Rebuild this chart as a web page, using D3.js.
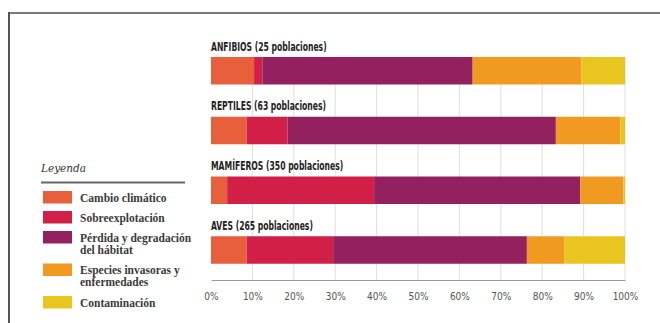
<!DOCTYPE html>
<html>
<head>
<meta charset="utf-8">
<script src="https://cdn.jsdelivr.net/npm/d3@7"></script>
<style>
  html, body { margin: 0; padding: 0; background: #fff; }
  svg { display: block; }
</style>
</head>
<body>
<svg id="chart" width="660" height="323"></svg>
<script>
// Groups and their population counts
const groups = ["ANFIBIOS", "REPTILES", "MAMÍFEROS", "AVES"];
const populations = [25, 63, 350, 265];

// Threat categories (legend order = stacking order)
const threats = [
  "Cambio climático",
  "Sobreexplotación",
  "Pérdida y degradación del hábitat",
  "Especies invasoras y enfermedades",
  "Contaminación"
];
const legendLines = [
  ["Cambio climático"],
  ["Sobreexplotación"],
  ["Pérdida y degradación", "del hábitat"],
  ["Especies invasoras y", "enfermedades"],
  ["Contaminación"]
];
const colors = ["#e85f3c", "#d21f48", "#93215f", "#f09a22", "#e8c51f"];

// Share of each threat per group, in percent
const cambioClimatico   = [10.4, 8.6, 3.9, 8.6];
const sobreexplotacion  = [2.0, 9.9, 35.5, 20.9];
const perdidaHabitat    = [50.8, 64.8, 49.8, 46.8];
const especiesInvasoras = [26.3, 15.6, 10.4, 9.0];
const contaminacion     = [10.5, 1.1, 0.4, 14.7];

const xTicks = [0, 10, 20, 30, 40, 50, 60, 70, 80, 90, 100];

const series = [cambioClimatico, sobreexplotacion, perdidaHabitat, especiesInvasoras, contaminacion];
const rows = groups.map((g, i) => {
  const r = { group: g };
  threats.forEach((t, j) => { r[t] = series[j][i]; });
  return r;
});
const stacked = d3.stack().keys(threats)(rows);

const svg = d3.select("#chart");

// frame lines (top and left)
svg.append("line").attr("x1", 9).attr("x2", 660).attr("y1", 13).attr("y2", 13)
  .attr("stroke", "#7a7a7a").attr("stroke-width", 2);
svg.append("line").attr("x1", 9).attr("x2", 9).attr("y1", 12).attr("y2", 323)
  .attr("stroke", "#555").attr("stroke-width", 2);

const x = d3.scaleLinear().domain([0, 100]).range([211, 625]);
const y = d3.scaleBand().domain(groups).range([42, 281]).paddingInner(0.0).paddingOuter(0);
const barTop = g => y(g) + 15;
const barH = 27.5;

// grid
svg.append("g").selectAll("line").data(xTicks.slice(1)).join("line")
  .attr("x1", d => x(d)).attr("x2", d => x(d))
  .attr("y1", barTop(groups[0])).attr("y2", 280)
  .attr("stroke", "#dedede").attr("stroke-width", 1);

// bars
svg.append("g").selectAll("g").data(stacked).join("g")
  .attr("fill", (d, i) => colors[i])
  .selectAll("rect").data(d => d).join("rect")
  .attr("x", d => x(d[0]))
  .attr("width", d => x(d[1]) - x(d[0]))
  .attr("y", d => barTop(d.data.group))
  .attr("height", barH);

// group titles
svg.append("g").selectAll("text").data(groups).join("text")
  .attr("transform", (d) => `translate(211,${barTop(d) - 6.5}) scale(0.665,1)`)
  .attr("font-family", "'DejaVu Sans Condensed', 'DejaVu Sans', sans-serif")
  .attr("font-weight", "bold")
  .attr("font-size", 12.8)
  .attr("fill", "#222")
  .text((d, i) => `${d} (${populations[i]} poblaciones)`);

// x axis
const axis = svg.append("g").attr("transform", "translate(0,280)")
  .call(d3.axisBottom(x).tickValues(xTicks).tickFormat(d => d + "%").tickSize(0).tickPadding(13));
axis.select(".domain").attr("stroke", "#9a9a9a").attr("stroke-width", 1.2);
axis.selectAll("text")
  .attr("font-family", "'DejaVu Sans Condensed', 'DejaVu Sans', sans-serif")
  .attr("font-size", 10).attr("fill", "#555");

// legend
const lg = svg.append("g");
lg.append("text").attr("x", 41).attr("y", 172)
  .attr("font-family", "'DejaVu Serif', serif").attr("font-style", "italic")
  .attr("font-size", 10.5).attr("fill", "#333").text("Leyenda");
lg.append("line").attr("x1", 41).attr("x2", 185).attr("y1", 182.5).attr("y2", 182.5)
  .attr("stroke", "#666").attr("stroke-width", 1.8);

const swatchY = [191, 211, 231, 263.5, 296];
const items = lg.selectAll("g.item").data(threats).join("g").attr("class", "item")
  .attr("transform", (d, i) => `translate(43,${swatchY[i]})`);
items.append("rect").attr("width", 29).attr("height", 12.5).attr("fill", (d, i) => colors[i]);
items.append("text")
  .attr("x", 37).attr("y", 10.5)
  .attr("font-family", "'Liberation Serif', serif").attr("font-weight", "bold")
  .attr("font-size", 11.5).attr("fill", "#3a3a3a")
  .selectAll("tspan").data((d, i) => legendLines[i]).join("tspan")
  .attr("x", 37).attr("dy", (d, k) => k === 0 ? 0 : 12)
  .text(d => d);
</script>
</body>
</html>
